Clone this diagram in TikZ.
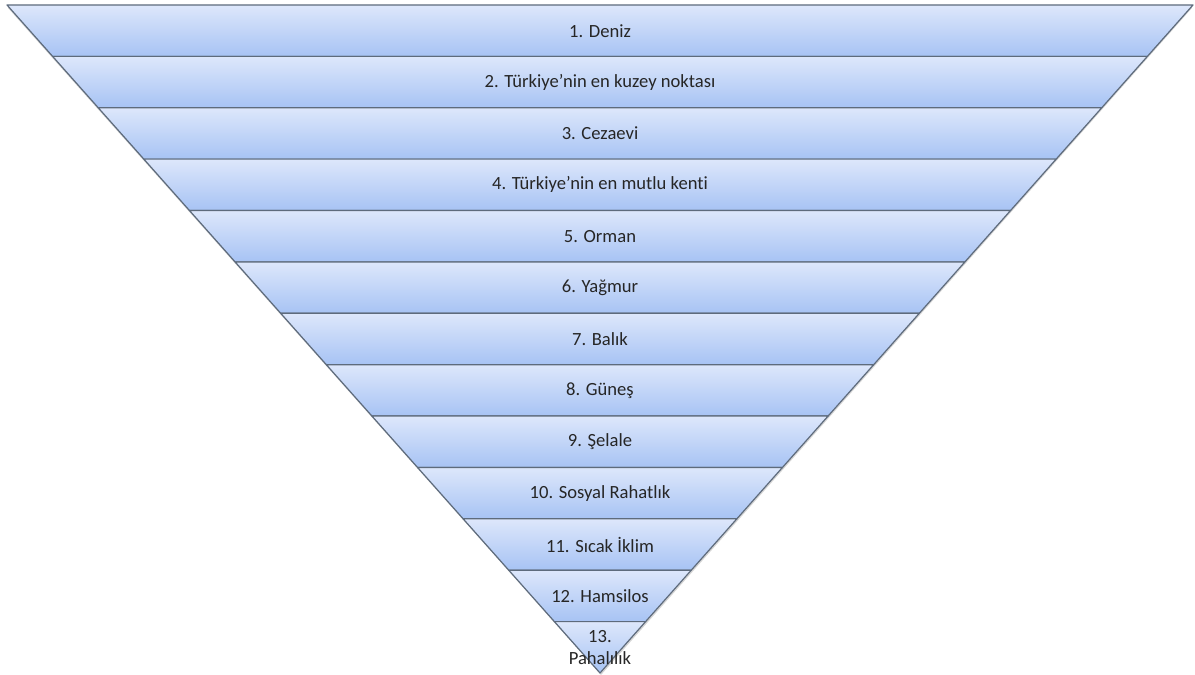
\documentclass[tikz,border=0pt]{standalone}
\usepackage{fontspec}
\setmainfont{Carlito}[Ligatures=NoCommon]
\usepackage{tikz}
\usetikzlibrary{
  calc,
  positioning
}
\definecolor{ink}{HTML}{262626}
\definecolor{edge}{HTML}{5E6B7C}
\definecolor{bandtop}{HTML}{DDE7FB}
\definecolor{bandbottom}{HTML}{A7C3F4}
\definecolor{shadow}{HTML}{B8B8B8}
\newcommand{\funnelband}[2]{%
  \pgfmathsetmacro{\bandyt}{670 - (#1-1)*668/13}%
  \pgfmathsetmacro{\bandyb}{670 - #1*668/13}%
  \pgfmathsetmacro{\bandwt}{(\bandyt-2)/668*593}%
  \pgfmathsetmacro{\bandwb}{(\bandyb-2)/668*593}%
  \pgfmathsetmacro{\bandym}{(\bandyt+\bandyb)/2}%
  \path[band] (600-\bandwt,\bandyt) -- (600+\bandwt,\bandyt)
    -- (600+\bandwb,\bandyb) -- (600-\bandwb,\bandyb) -- cycle;
  \node[bandlabel] (label#1) at (600,\bandym) {#2};%
}
\tikzset{
  band/.style={
    draw=edge,
    line width=1.2pt,
    line join=round,
    top color=bandtop,
    bottom color=bandbottom
  },
  bandlabel/.style={
    font=\fontsize{18.6}{22}\selectfont,
    text=ink,
    align=center,
    inner sep=0pt
  }
}
\begin{document}
\begin{tikzpicture}[x=1pt, y=1pt]
  \useasboundingbox (0,0) rectangle (1195,675);
  % soft shadow behind the funnel
  \fill[shadow, opacity=0.6] (8,667) -- (1192,667) -- (601,0) -- cycle;
  \funnelband{1}{1. Deniz}
  \funnelband{2}{2. Türkiye’nin en kuzey noktası}
  \funnelband{3}{3. Cezaevi}
  \funnelband{4}{4. Türkiye’nin en mutlu kenti}
  \funnelband{5}{5. Orman}
  \funnelband{6}{6. Yağmur}
  \funnelband{7}{7. Balık}
  \funnelband{8}{8. Güneş}
  \funnelband{9}{9. Şelale}
  \funnelband{10}{10. Sosyal Rahatlık}
  \funnelband{11}{11. Sıcak İklim}
  \funnelband{12}{12. Hamsilos}
  \funnelband{13}{13.\\Pahalılık}
\end{tikzpicture}
\end{document}
